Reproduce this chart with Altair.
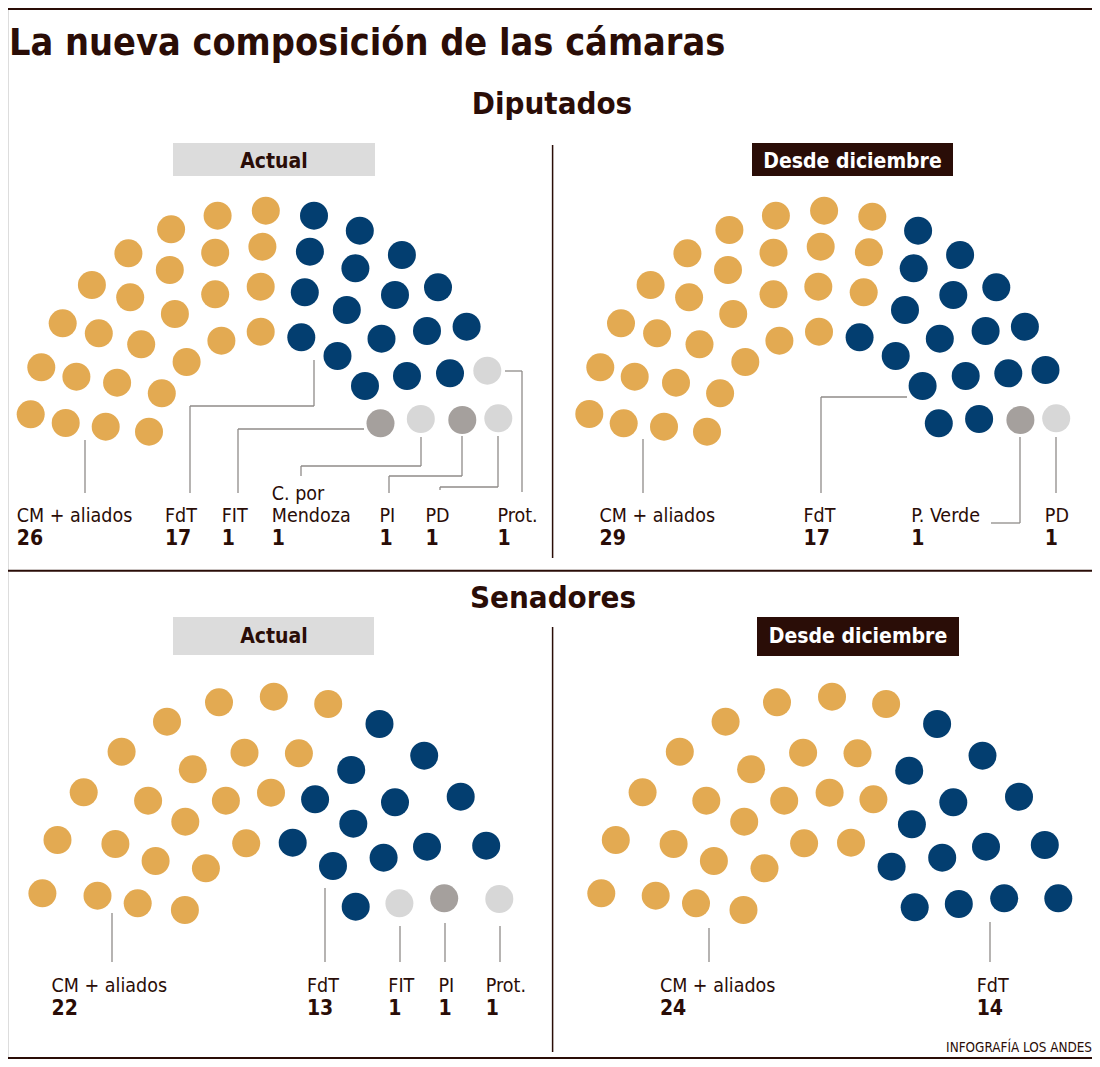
import altair as alt
import pandas as pd

# ---------------- colours / fonts ----------------
DARK = "#2a0d07"
GOLD = "#e3aa52"
NAVY = "#033e70"
GREY_D = "#a5a09d"
GREY_L = "#d7d7d7"
LINE = "#8f8b89"
BOX_L = "#dcdcdc"
FONT = "'Liberation Sans Narrow', 'DejaVu Sans Condensed', 'Roboto Condensed', Roboto, sans-serif"

# ---------------- data: seat counts ----------------
dip_act_partidos = ["CM + aliados", "FdT", "FIT", "C. por Mendoza", "PI", "PD", "Prot."]
dip_act_bancas = [26, 17, 1, 1, 1, 1, 1]
dip_act_tono = ["CM", "FdT", "oscuro", "claro", "oscuro", "claro", "claro"]

dip_dic_partidos = ["CM + aliados", "FdT", "P. Verde", "PD"]
dip_dic_bancas = [29, 17, 1, 1]
dip_dic_tono = ["CM", "FdT", "oscuro", "claro"]

sen_act_partidos = ["CM + aliados", "FdT", "FIT", "PI", "Prot."]
sen_act_bancas = [22, 13, 1, 1, 1]
sen_act_tono = ["CM", "FdT", "claro", "oscuro", "claro"]

sen_dic_partidos = ["CM + aliados", "FdT"]
sen_dic_bancas = [24, 14]
sen_dic_tono = ["CM", "FdT"]

# ---------------- data: seat positions ----------------
# Diputados - Actual
dip_act_x = {
    "CM + aliados": [217.6, 265.8, 171.1, 128.4, 215.2, 262.4, 91.9, 169.8, 130.2, 215.2, 260.7, 62.7, 174.9,
                     98.8, 141.2, 221.4, 260.7, 41.3, 186.6, 76.4, 117.1, 161.8, 30.7, 65.7, 105.7, 149.0],
    "FdT": [314.0, 359.8, 309.9, 401.9, 355.4, 304.8, 438.0, 395.0, 346.8, 466.6, 427.0, 301.3, 381.5, 337.5,
            450.0, 407.0, 365.0],
    "FIT": [380.5], "C. por Mendoza": [420.8], "PI": [462.3], "PD": [498.3], "Prot.": [487.3],
}
dip_act_y = {
    "CM + aliados": [215.7, 210.7, 229.3, 253.3, 252.7, 246.7, 285.0, 270.0, 297.3, 294.3, 286.7, 323.3, 314.0,
                     333.3, 344.3, 340.7, 331.7, 367.3, 362.0, 376.7, 382.7, 393.3, 414.3, 423.0, 426.7, 431.7],
    "FdT": [215.7, 230.7, 251.7, 255.0, 268.3, 292.3, 287.3, 295.0, 310.0, 326.7, 331.0, 337.3, 338.7, 356.0,
            373.3, 376.0, 386.0],
    "FIT": [423.3], "C. por Mendoza": [419.0], "PI": [420.0], "PD": [418.3], "Prot.": [370.7],
}
# Diputados - Desde diciembre
dip_dic_x = {
    "CM + aliados": [775.9, 824.1, 872.3, 729.4, 687.4, 773.5, 820.7, 868.9, 650.6, 728.0, 689.1, 773.5, 818.3,
                     863.7, 621.0, 733.2, 657.1, 699.5, 779.4, 819.0, 600.3, 745.3, 634.7, 676.0, 720.1, 589.3,
                     623.7, 664.0, 707.0],
    "FdT": [918.1, 960.1, 913.7, 996.3, 953.3, 905.0, 1024.9, 985.6, 859.6, 939.8, 895.7, 1045.5, 1008.3, 965.7,
            922.6, 938.8, 979.1],
    "P. Verde": [1020.4], "PD": [1056.2],
}
dip_dic_y = {
    "CM + aliados": [215.7, 210.7, 216.7, 230.0, 253.3, 252.7, 246.7, 252.3, 285.0, 270.0, 297.3, 294.3, 286.7,
                     292.3, 323.3, 314.0, 333.3, 344.3, 340.7, 331.7, 367.3, 362.0, 376.7, 382.7, 393.3, 414.0,
                     423.3, 426.7, 431.7],
    "FdT": [230.7, 255.0, 268.3, 287.3, 295.0, 310.0, 326.7, 331.0, 337.3, 338.7, 356.0, 370.0, 373.3, 376.0,
            386.0, 423.3, 419.0],
    "P. Verde": [420.0], "PD": [418.3],
}
# Senadores - Actual
sen_act_x = {
    "CM + aliados": [219.0, 273.8, 328.2, 167.0, 121.6, 244.5, 298.9, 192.8, 83.7, 148.1, 225.9, 271.0, 185.3,
                     57.5, 115.4, 155.6, 246.2, 205.9, 42.4, 97.5, 137.7, 184.9],
    "FdT": [379.5, 424.2, 351.2, 315.1, 395.0, 460.7, 353.3, 292.7, 383.6, 427.0, 486.2, 333.0, 355.7],
    "FIT": [399.4], "PI": [444.2], "Prot.": [499.3],
}
sen_act_y = {
    "CM + aliados": [702.3, 696.7, 704.0, 721.7, 751.7, 752.7, 753.3, 769.3, 792.3, 800.7, 800.7, 792.7, 821.7,
                     840.0, 844.0, 861.0, 843.3, 868.3, 893.3, 895.7, 903.3, 910.0],
    "FdT": [724.0, 755.7, 770.0, 799.3, 802.3, 796.7, 823.7, 842.7, 857.7, 846.7, 845.7, 866.0, 906.7],
    "FIT": [903.3], "PI": [898.3], "Prot.": [899.0],
}
# Senadores - Desde diciembre
sen_dic_x = {
    "CM + aliados": [777.0, 832.0, 886.1, 725.6, 679.8, 803.1, 857.5, 751.1, 642.6, 706.3, 784.2, 829.6, 873.4,
                     744.2, 615.8, 673.6, 713.9, 804.1, 851.0, 764.5, 601.3, 655.7, 696.0, 743.5],
    "FdT": [937.1, 982.5, 909.2, 953.3, 1019.0, 911.9, 891.6, 942.2, 986.0, 1044.8, 914.7, 958.8, 1004.2, 1058.3],
}
sen_dic_y = {
    "CM + aliados": [702.3, 696.7, 704.0, 721.7, 751.7, 752.7, 753.3, 769.3, 792.3, 800.7, 800.7, 792.7, 799.3,
                     821.7, 840.0, 844.0, 861.0, 843.3, 842.7, 868.3, 893.3, 895.7, 903.3, 910.0],
    "FdT": [724.0, 755.7, 770.7, 802.3, 796.7, 824.3, 866.7, 857.7, 846.7, 845.0, 907.3, 904.0, 898.3, 898.3],
}

# label anchors (left x)
dip_act_lab_x = [16.8, 164.9, 221.7, 271.8, 379.5, 425.5, 497.4]
dip_dic_lab_x = [599.6, 803.5, 911.2, 1044.8]
sen_act_lab_x = [51.6, 306.9, 388.3, 438.4, 485.8]
sen_dic_lab_x = [659.9, 976.7]

# leader lines (polylines)
dip_act_leaders = [
    [(85, 440), (85, 493)],
    [(314, 360), (314, 406), (190, 406), (190, 493)],
    [(364, 429), (238, 429), (238, 493)],
    [(421, 437), (421, 466), (301, 466), (301, 476)],
    [(462, 436), (462, 476), (389, 476), (389, 493)],
    [(498, 436), (498, 487), (440, 487), (440, 490)],
    [(505, 371), (522, 371), (522, 492)],
]
dip_dic_leaders = [
    [(643, 439), (643, 493)],
    [(907, 397), (821, 397), (821, 493)],
    [(1020, 437), (1020, 523), (991, 523)],
    [(1056, 437), (1056, 493)],
]
sen_act_leaders = [
    [(112, 913), (112, 962)],
    [(325, 888), (325, 962)],
    [(400, 926), (400, 962)],
    [(445, 923), (445, 962)],
    [(500, 926), (500, 962)],
]
sen_dic_leaders = [
    [(709, 928), (709, 962)],
    [(990, 922), (990, 962)],
]

# ---------------- build tables ----------------
seat_rows = []
for partidos, bancas, tonos, xs, ys in [
    (dip_act_partidos, dip_act_bancas, dip_act_tono, dip_act_x, dip_act_y),
    (dip_dic_partidos, dip_dic_bancas, dip_dic_tono, dip_dic_x, dip_dic_y),
    (sen_act_partidos, sen_act_bancas, sen_act_tono, sen_act_x, sen_act_y),
    (sen_dic_partidos, sen_dic_bancas, sen_dic_tono, sen_dic_x, sen_dic_y),
]:
    for p, n, t in zip(partidos, bancas, tonos):
        for i in range(n):
            seat_rows.append({"partido": p, "tono": t, "x": xs[p][i], "y": ys[p][i]})
seats = pd.DataFrame(seat_rows)

seg_rows = []
for group in [dip_act_leaders, dip_dic_leaders, sen_act_leaders, sen_dic_leaders]:
    for line in group:
        for (a, b) in zip(line[:-1], line[1:]):
            seg_rows.append({"x": a[0], "y": a[1], "x2": b[0], "y2": b[1], "c": LINE, "w": 1.3})
# frame rules
seg_rows += [
    {"x": 0, "y": 9, "x2": 1100, "y2": 9, "c": DARK, "w": 2},
    {"x": 0, "y": 570.7, "x2": 1100, "y2": 570.7, "c": DARK, "w": 2},
    {"x": 0, "y": 1058, "x2": 1100, "y2": 1058, "c": DARK, "w": 2},
    {"x": 552.6, "y": 145, "x2": 552.6, "y2": 558, "c": DARK, "w": 1.5},
    {"x": 552.6, "y": 627, "x2": 552.6, "y2": 1052, "c": DARK, "w": 1.5},
]
segs = pd.DataFrame(seg_rows)

name_rows, num_rows = [], []
for partidos, bancas, labx, yname, ynum in [
    (dip_act_partidos, dip_act_bancas, dip_act_lab_x, 521.7, 545.0),
    (dip_dic_partidos, dip_dic_bancas, dip_dic_lab_x, 521.7, 545.0),
    (sen_act_partidos, sen_act_bancas, sen_act_lab_x, 991.7, 1015.0),
    (sen_dic_partidos, sen_dic_bancas, sen_dic_lab_x, 991.7, 1015.0),
]:
    for p, n, lx in zip(partidos, bancas, labx):
        if p == "C. por Mendoza":
            name_rows.append({"x": lx, "y": yname - 21.7, "t": "C. por"})
            name_rows.append({"x": lx, "y": yname, "t": "Mendoza"})
        else:
            name_rows.append({"x": lx, "y": yname, "t": p})
        num_rows.append({"x": lx, "y": ynum, "t": str(n)})
names = pd.DataFrame(name_rows)
nums = pd.DataFrame(num_rows)

boxes = pd.DataFrame([
    {"x": 173, "x2": 375, "y": 143, "y2": 176, "c": BOX_L},
    {"x": 752, "x2": 953, "y": 143, "y2": 176, "c": DARK},
    {"x": 173, "x2": 374, "y": 617, "y2": 655, "c": BOX_L},
    {"x": 757, "x2": 959, "y": 617, "y2": 656, "c": DARK},
])

heads = pd.DataFrame([
    {"x": 9, "y": 55, "t": "La nueva composición de las cámaras", "s": 37.5, "c": DARK, "a": "left"},
    {"x": 552, "y": 114, "t": "Diputados", "s": 31, "c": DARK, "a": "center"},
    {"x": 553, "y": 608, "t": "Senadores", "s": 31, "c": DARK, "a": "center"},
    {"x": 274, "y": 167.5, "t": "Actual", "s": 21, "c": DARK, "a": "center"},
    {"x": 852.5, "y": 167.5, "t": "Desde diciembre", "s": 21, "c": "#ffffff", "a": "center"},
    {"x": 274, "y": 643, "t": "Actual", "s": 21, "c": DARK, "a": "center"},
    {"x": 858, "y": 643, "t": "Desde diciembre", "s": 21, "c": "#ffffff", "a": "center"},
])
credit = pd.DataFrame([{"x": 1092, "y": 1052, "t": "INFOGRAFÍA LOS ANDES"}])

# ---------------- scales (picture coordinates) ----------------
W, H = 1084, 1051
XS = alt.Scale(domain=[8, 8 + W], nice=False, zero=False)
YS = alt.Scale(domain=[8, 8 + H], nice=False, zero=False, reverse=True)
X = lambda f="x": alt.X(f"{f}:Q", scale=XS, axis=None)
Y = lambda f="y": alt.Y(f"{f}:Q", scale=YS, axis=None)

box_layer = alt.Chart(boxes).mark_rect().encode(
    x=X(), x2="x2", y=Y(), y2="y2", color=alt.Color("c:N", scale=None))

rule_layer = alt.Chart(segs).mark_rule().encode(
    x=X(), x2="x2", y=Y(), y2="y2",
    color=alt.Color("c:N", scale=None),
    strokeWidth=alt.StrokeWidth("w:Q", scale=None))

seat_layer = alt.Chart(seats).mark_circle(size=784, opacity=1).encode(
    x=X(), y=Y(),
    color=alt.Color("tono:N", scale=alt.Scale(domain=["CM", "FdT", "oscuro", "claro"],
                                              range=[GOLD, NAVY, GREY_D, GREY_L]), legend=None))

head_layers = []
for a in ["left", "center"]:
    head_layers.append(
        alt.Chart(heads[heads.a == a]).mark_text(font=FONT, fontWeight=900, align=a, baseline="alphabetic").encode(
            x=X(), y=Y(), text="t:N",
            size=alt.Size("s:Q", scale=None), color=alt.Color("c:N", scale=None)))

name_layer = alt.Chart(names).mark_text(font=FONT, fontSize=19.5, color=DARK, align="left",
                                        baseline="alphabetic").encode(x=X(), y=Y(), text="t:N")
num_layer = alt.Chart(nums).mark_text(font=FONT, fontSize=21, fontWeight=900, color=DARK, align="left",
                                      baseline="alphabetic").encode(x=X(), y=Y(), text="t:N")
credit_layer = alt.Chart(credit).mark_text(font=FONT, fontSize=13.4, color=DARK, align="right",
                                           baseline="alphabetic").encode(x=X(), y=Y(), text="t:N")

chart = alt.layer(box_layer, rule_layer, seat_layer, *head_layers, name_layer, num_layer, credit_layer).properties(
    width=W, height=H, padding=0, autosize=alt.AutoSizeParams(type="none")
).configure_view(stroke=None).configure(background="#ffffff")

chart.save("out.html", embed_options={"renderer": "svg", "actions": False})
